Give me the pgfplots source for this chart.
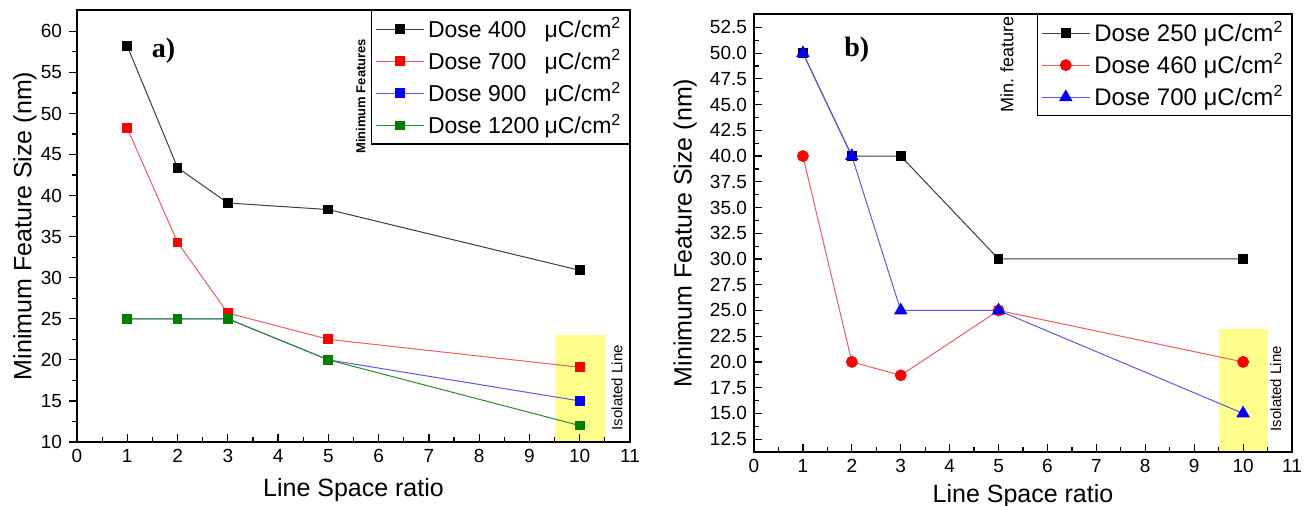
\documentclass[border=0pt]{standalone}
\usepackage{pgfplots}
\pgfplotsset{compat=1.18}
\usepackage{fontspec}
\setmainfont{Liberation Sans}
\newfontfamily\serifbf{Liberation Serif}
\definecolor{lineK}{RGB}{60,60,60}
\definecolor{lineR}{RGB}{235,95,95}
\definecolor{lineB}{RGB}{90,90,230}
\definecolor{lineG}{RGB}{40,140,40}
\definecolor{mkG}{RGB}{0,128,0}
\definecolor{yellowbox}{RGB}{255,255,140}
\pgfplotsset{
  common/.style={
    scale only axis, anchor=south west,
    xmin=0, xmax=11, xtick={0,...,11}, minor x tick num=1,
    xtick pos=bottom, ytick pos=left,
    xtick align=inside,
    axis on top,
    major tick length=4pt, minor tick length=2.5pt,
    tick style={black, line width=0.6pt},
    axis line style={line width=0.8pt},
    ticklabel style={font=\fontsize{9.5}{10}\selectfont},
    /pgf/number format/assume math mode=true,
    xlabel={Line Space ratio},
    label style={font=\fontsize{12.5}{14}\selectfont},
    legend style={at={(1,1)}, anchor=north east, draw=black, line width=0.6pt,
      font=\fontsize{11.5}{13}\selectfont, inner xsep=2pt, inner ysep=1.5pt,
      row sep=0.6pt, cells={anchor=west}},
    legend image code/.code={\draw[mark repeat=2,mark phase=2] plot coordinates {(0pt,0pt)(12pt,0pt)(24pt,0pt)};},
  },
  sK/.style={color=lineK, line width=0.5pt, mark=square*, mark size=2.2pt, mark options={solid, fill=black, draw=black}},
  sR/.style={color=lineR, line width=0.5pt, mark=square*, mark size=2.2pt, mark options={solid, fill=red, draw=red}},
  sB/.style={color=lineB, line width=0.5pt, mark=square*, mark size=2.2pt, mark options={solid, fill=blue, draw=blue}},
  sG/.style={color=lineG, line width=0.5pt, mark=square*, mark size=2.2pt, mark options={solid, fill=mkG, draw=mkG}},
  cR/.style={color=lineR, line width=0.5pt, mark=*, mark size=2.7pt, mark options={solid, fill=red, draw=red}},
  tB/.style={color=lineB, line width=0.5pt, mark=triangle*, mark size=3.4pt, mark options={solid, fill=blue, draw=blue}},
}
\begin{document}
\begin{tikzpicture}[x=1pt,y=1pt]
\useasboundingbox (0,0) rectangle (653.5,253);
% ---------- panel a ----------
\begin{axis}[common,
  at={(38.5pt,32pt)}, width=276.5pt, height=216pt,
  ymin=10, ymax=62.6, ytick={10,15,...,60}, minor y tick num=1,
  ytick align=outside,
  ylabel={Minimum Feature Size (nm)},
  ylabel style={at={(axis description cs:-0.094,0.5)}, anchor=center},
  xlabel style={at={(axis description cs:0.5,-0.111)}, anchor=center},
]
\addplot[fill=yellowbox, draw=none, forget plot] coordinates {(9.5,23) (10.5,23)} \closedcycle;
\addplot[sK] coordinates {(1,58.2) (2,43.4) (3,39.1) (5,38.3) (10,30.9)};
\addlegendentry{Dose \makebox[2.45em][l]{400}μC/cm\textsuperscript{2}}
\addplot[sR] coordinates {(1,48.2) (2,34.3) (3,25.7) (5,22.5) (10,19.1)};
\addlegendentry{Dose \makebox[2.45em][l]{700}μC/cm\textsuperscript{2}}
\addplot[sB] coordinates {(1,25) (2,25) (3,25) (5,20) (10,15)};
\addlegendentry{Dose \makebox[2.45em][l]{900}μC/cm\textsuperscript{2}}
\addplot[sG] coordinates {(1,25) (2,25) (3,25) (5,20) (10,12)};
\addlegendentry{Dose \makebox[2.45em][l]{1200}μC/cm\textsuperscript{2}}
\node[font=\serifbf\bfseries\fontsize{14}{15}\selectfont] at (axis cs:1.72,57.6) {a)};
\node[rotate=90, font=\fontsize{7.5}{8}\selectfont] at (axis cs:10.74,16.6) {Isolated Line};
\node[rotate=90, font=\bfseries\fontsize{6.5}{7}\selectfont] at (rel axis cs:0.513,0.80) {Minimum Features};
\end{axis}
% ---------- panel b ----------
\begin{axis}[common,
  at={(377pt,27pt)}, width=269pt, height=219pt,
  ymin=11.25, ymax=53.8, ytick={12.5,15,...,52.5}, minor y tick num=1,
  ytick align=inside,
  yticklabel style={/pgf/number format/.cd, fixed, fixed zerofill, precision=1},
  ylabel={Minimum Feature Size (nm)},
  ylabel style={at={(axis description cs:-0.128,0.5)}, anchor=center},
  xlabel style={at={(axis description cs:0.5,-0.1)}, anchor=center},
  legend style={font=\fontsize{12}{13.5}\selectfont},
]
\addplot[fill=yellowbox, draw=none, forget plot] coordinates {(9.5,23.2) (10.5,23.2)} \closedcycle;
\addplot[sK] coordinates {(1,50) (2,40) (3,40) (5,30) (10,30)};
\addlegendentry{Dose 250 μC/cm\textsuperscript{2}}
\addplot[cR] coordinates {(1,40) (2,20) (3,18.7) (5,25) (10,20)};
\addlegendentry{Dose 460 μC/cm\textsuperscript{2}}
\addplot[tB] coordinates {(1,50) (2,40) (3,25) (5,25) (10,15)};
\addlegendentry{Dose 700 μC/cm\textsuperscript{2}}
\node[font=\serifbf\bfseries\fontsize{14}{15}\selectfont] at (axis cs:2.1,50.3) {b)};
\node[rotate=90, font=\fontsize{7.5}{8}\selectfont] at (axis cs:10.67,17.4) {Isolated Line};
\node[rotate=90, font=\fontsize{9}{10}\selectfont] at (rel axis cs:0.47,0.885) {Min. feature};
\end{axis}
\end{tikzpicture}
\end{document}
